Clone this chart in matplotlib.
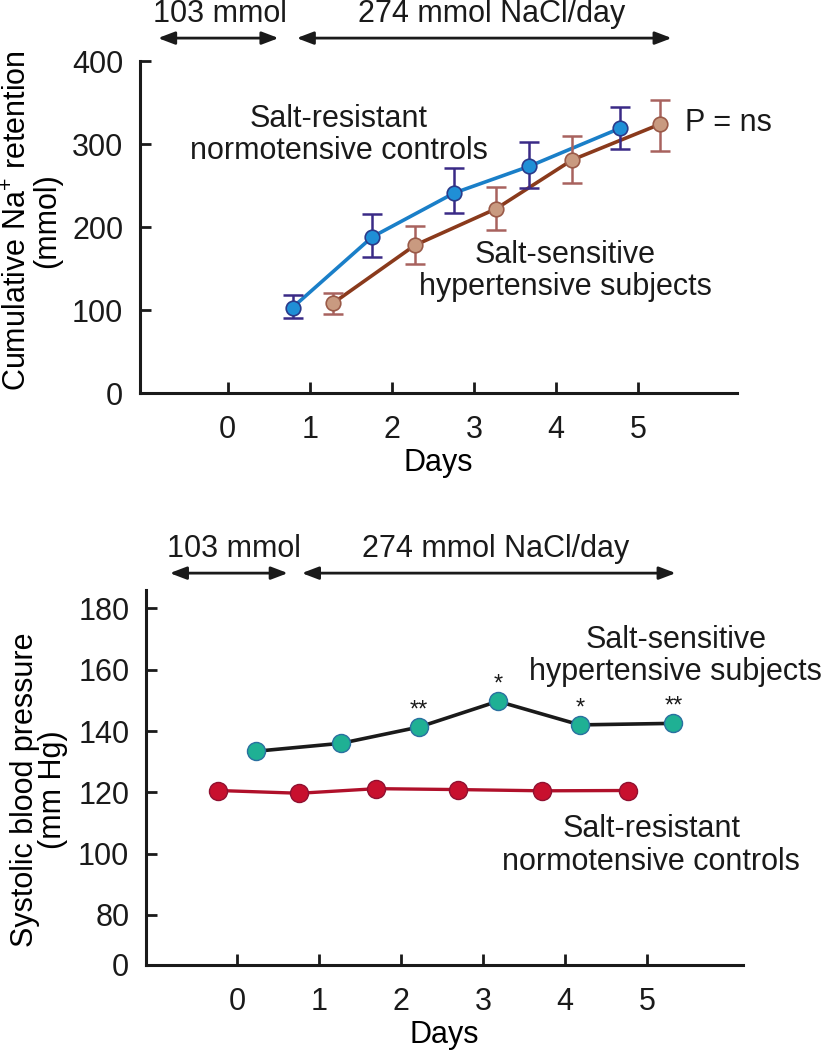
import matplotlib
matplotlib.use("Agg")
import matplotlib.pyplot as plt
import matplotlib.transforms as mtransforms

plt.rcParams['font.family'] = ['Liberation Sans', 'DejaVu Sans']
plt.rcParams['mathtext.default'] = 'regular'

# ---- Top panel: cumulative Na+ retention ----
res_days = [0.79, 1.76, 2.76, 3.67, 4.78]
res_na = [103, 188, 241, 273, 319]
res_na_lo = [90, 164, 217, 247, 294]
res_na_hi = [118, 216, 271, 302, 345]

sens_days = [1.28, 2.28, 3.27, 4.20, 5.27]
sens_na = [108, 178, 222, 281, 324]
sens_na_lo = [95, 156, 197, 253, 291]
sens_na_hi = [121, 201, 248, 310, 353]

# ---- Bottom panel: systolic blood pressure ----
bp_sens_days = [0.23, 1.27, 2.22, 3.18, 4.18, 5.32]
bp_sens = [133.4, 136.0, 141.3, 149.7, 142.0, 142.5]
bp_sens_sig = ['', '', '**', '*', '*', '**']

bp_res_days = [-0.23, 0.76, 1.70, 2.70, 3.72, 4.77]
bp_res = [120.6, 119.7, 121.2, 120.9, 120.5, 120.6]

day_ticks = [0, 1, 2, 3, 4, 5]
top_yticks = [0, 100, 200, 300, 400]
bot_yticks = [80, 100, 120, 140, 160, 180]
bot_ybreak = 63.7  # axis bottom, labelled "0"

FS = 22
TXT = '#1a1a1a'

fig = plt.figure(figsize=(8.23, 10.5), dpi=100)
ax1 = fig.add_axes([0.170, 0.6257, 0.725, 0.3162])
ax2 = fig.add_axes([0.1774, 0.081, 0.7254, 0.3571])

def style(ax):
    for s in ['top', 'right']:
        ax.spines[s].set_visible(False)
    for s in ['left', 'bottom']:
        ax.spines[s].set_linewidth(2.2)
        ax.spines[s].set_color(TXT)
    ax.tick_params(direction='in', length=8, width=2, colors=TXT,
                   labelsize=FS, labelcolor=TXT)
    ax.tick_params(axis='x', pad=16)
    ax.tick_params(axis='y', pad=12)

# Top panel
style(ax1)
ax1.plot(res_days, res_na, color='#1a7fc8', lw=2.6, zorder=2)
ax1.errorbar(res_days, res_na,
             yerr=[[v - l for v, l in zip(res_na, res_na_lo)],
                   [h - v for v, h in zip(res_na, res_na_hi)]],
             fmt='none', ecolor='#3a2a86', elinewidth=1.8, capsize=7, capthick=1.8, zorder=3)
ax1.plot(res_days, res_na, 'o', ms=10.5, mfc='#1f8fd6', mec='#2a3a8a', mew=1.2, zorder=4)

ax1.plot(sens_days, sens_na, color='#8a3a1c', lw=2.6, zorder=2)
ax1.errorbar(sens_days, sens_na,
             yerr=[[v - l for v, l in zip(sens_na, sens_na_lo)],
                   [h - v for v, h in zip(sens_na, sens_na_hi)]],
             fmt='none', ecolor='#a8625e', elinewidth=1.8, capsize=7, capthick=1.8, zorder=3)
ax1.plot(sens_days, sens_na, 'o', ms=10.5, mfc='#c99a80', mec='#9a5a48', mew=1.2, zorder=4)

ax1.set_xlim(-1.07, 6.2)
ax1.set_ylim(0, 400)
ax1.set_xticks(day_ticks)
ax1.set_yticks(top_yticks)
ax1.set_xlabel('Days', fontsize=FS, labelpad=2)
ax1.set_ylabel('Cumulative Na$^{+}$ retention\n(mmol)', fontsize=FS, linespacing=0.95)
ax1.yaxis.set_label_coords(-0.131, 0.52)

ax1.text(1.35, 311, 'Salt-resistant\nnormotensive controls', fontsize=FS,
         ha='center', va='center', linespacing=1.1, color=TXT)
ax1.text(4.11, 147, 'Salt-sensitive\nhypertensive subjects', fontsize=FS,
         ha='center', va='center', linespacing=1.1, color=TXT)
ax1.text(5.57, 325, 'P = ns', fontsize=FS, ha='left', va='center', color=TXT)

def arrows(ax, a1, a2, yarr, t1, t2, ytxt):
    tr = mtransforms.blended_transform_factory(ax.transData, ax.transAxes)
    aprops = dict(arrowstyle='<|-|>,head_length=1.0,head_width=0.38', color=TXT,
                  lw=2.0, shrinkA=0, shrinkB=0)
    ax.annotate('', xy=(a1[1], yarr), xytext=(a1[0], yarr), xycoords=tr, textcoords=tr,
                arrowprops=aprops, annotation_clip=False)
    ax.annotate('', xy=(a2[1], yarr), xytext=(a2[0], yarr), xycoords=tr, textcoords=tr,
                arrowprops=aprops, annotation_clip=False)
    ax.text(t1, ytxt, '103 mmol', transform=tr, fontsize=FS, ha='center', va='center',
            color=TXT)
    ax.text(t2, ytxt, '274 mmol NaCl/day', transform=tr, fontsize=FS, ha='center',
            va='center', color=TXT)

arrows(ax1, (-0.85, 0.62), (0.84, 5.41), 1.069, -0.1, 3.22, 1.142)

# Bottom panel
style(ax2)
ax2.plot(bp_sens_days, bp_sens, color=TXT, lw=2.6, zorder=2)
ax2.plot(bp_sens_days, bp_sens, 'o', ms=13, mfc='#1fb094', mec='#2a70a0', mew=1.0, zorder=4)
ax2.plot(bp_res_days, bp_res, color='#b0102a', lw=2.4, zorder=2)
ax2.plot(bp_res_days, bp_res, 'o', ms=13, mfc='#c8102e', mec='#901030', mew=1.0, zorder=4)
for d, v, s in zip(bp_sens_days, bp_sens, bp_sens_sig):
    if s:
        ax2.annotate(s, xy=(d, v), xytext=(0, 4), textcoords='offset points',
                     ha='center', va='bottom', fontsize=17, color=TXT)

ax2.set_xlim(-1.11, 6.17)
ax2.set_ylim(bot_ybreak, 186)
ax2.set_xticks(day_ticks)
ax2.set_yticks([bot_ybreak] + bot_yticks)
ax2.set_yticklabels(['0'] + [str(t) for t in bot_yticks])
ax2.set_xlabel('Days', fontsize=FS, labelpad=2)
ax2.set_ylabel('Systolic blood pressure\n(mm Hg)', fontsize=FS, linespacing=0.95)
ax2.yaxis.set_label_coords(-0.130, 0.467)

ax2.text(5.35, 164.4, 'Salt-sensitive\nhypertensive subjects', fontsize=FS,
         ha='center', va='center', linespacing=1.1, color=TXT)
ax2.text(5.05, 102.7, 'Salt-resistant\nnormotensive controls', fontsize=FS,
         ha='center', va='center', linespacing=1.1, color=TXT)

arrows(ax2, (-0.82, 0.62), (0.79, 5.35), 1.045, -0.04, 3.15, 1.109)

fig.savefig('out.png', dpi=100)
